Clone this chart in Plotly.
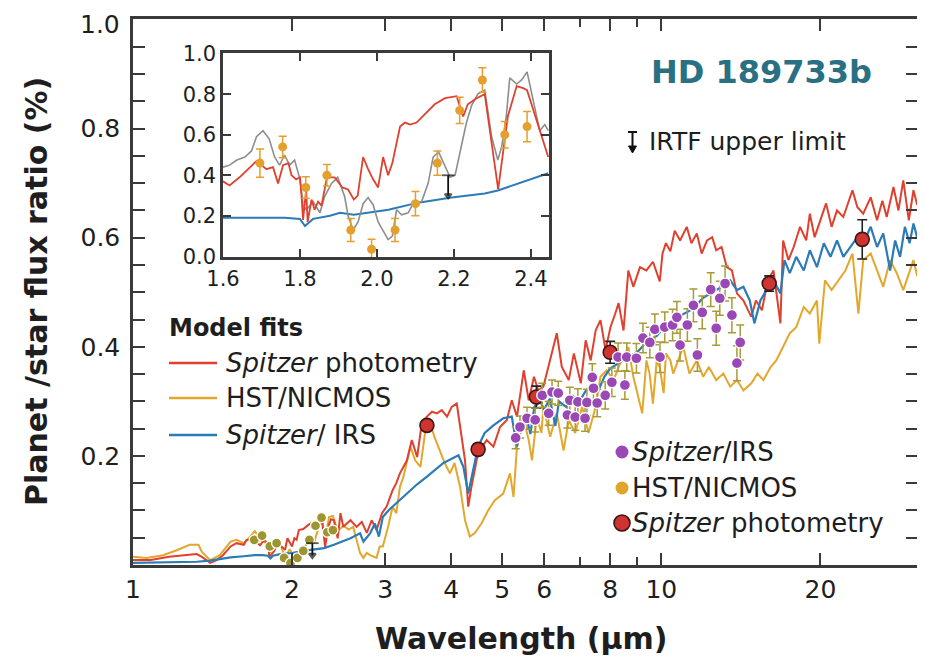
import numpy as np
import plotly.graph_objects as go

# ---------------- data ----------------
# main panel: model fits
red_x = [1.00,1.08,1.17,1.25,1.32,1.35,1.40,1.44,1.48,1.53,1.57,1.62,1.64,1.69,1.74,1.77,1.80,1.81,1.82,1.85,
         1.87,1.91,1.94,1.96,2.00,2.02,2.04,2.06,2.10,2.15,2.20,2.22,2.28,2.31,2.34,2.37,2.40,2.44,2.47,2.50,
         2.58,2.65,2.71,2.77,2.83,2.89,2.96,3.02,3.10,3.15,3.20,3.30,3.37,3.45,3.52,3.60,3.68,3.76,3.84,3.93,
         4.01,4.10,4.16,4.25,4.31,4.37,4.47,4.53,4.67,4.81,4.95,5.10,5.21,5.33,5.49,5.61,5.74,5.85,5.98,6.16,
         6.34,6.48,6.68,6.83,7.04,7.19,7.35,7.51,7.67,7.84,8.01,8.18,8.30,8.48,8.66,8.85,9.11,9.37,9.64,9.93,
         10.05,10.2,10.4,10.6,10.85,11.17,11.4,11.67,11.92,12.2,12.48,12.7,13.0,13.3,13.6,13.9,14.3,14.8,15.1,15.5,
         15.9,16.3,16.8,17.0,17.4,17.8,18.3,18.8,19.1,19.5,19.9,20.5,21.0,21.5,22.1,23.0,23.5,24.1,24.9,25.6,
         26.2,26.7,27.5,28.1,28.7,29.4,30.0,30.5]
red_y = [0.009,0.009,0.015,0.018,0.020,0.015,0.004,0.009,0.018,0.034,0.040,0.037,0.046,0.047,0.036,0.046,0.039,0.018,0.017,0.025,
         0.039,0.034,0.028,0.049,0.034,0.049,0.046,0.064,0.066,0.074,0.079,0.069,0.080,0.033,0.069,0.084,0.082,0.049,0.095,0.070,
         0.082,0.070,0.079,0.059,0.082,0.064,0.095,0.107,0.137,0.150,0.168,0.192,0.229,0.198,0.260,0.272,0.281,0.278,0.284,0.272,
         0.290,0.296,0.253,0.192,0.107,0.143,0.192,0.210,0.229,0.217,0.253,0.266,0.302,0.272,0.357,0.302,0.345,0.320,0.327,0.375,
         0.425,0.363,0.339,0.388,0.333,0.412,0.375,0.430,0.449,0.394,0.436,0.461,0.480,0.430,0.540,0.510,0.546,0.540,0.556,0.520,
         0.571,0.590,0.575,0.613,0.595,0.620,0.590,0.608,0.571,0.595,0.601,0.577,0.583,0.546,0.540,0.498,0.485,0.455,0.485,0.467,
         0.522,0.540,0.443,0.595,0.559,0.583,0.620,0.595,0.644,0.601,0.626,0.663,0.620,0.650,0.638,0.687,0.656,0.644,0.674,0.632,
         0.668,0.638,0.693,0.650,0.705,0.632,0.687,0.660]

gold_x = [1.00,1.06,1.14,1.21,1.28,1.33,1.35,1.40,1.46,1.53,1.57,1.62,1.66,1.70,1.75,1.80,1.82,1.86,1.90,1.94,
          1.98,2.03,2.06,2.10,2.16,2.20,2.24,2.28,2.31,2.35,2.39,2.44,2.50,2.56,2.61,2.65,2.69,2.73,2.77,2.81,
          2.89,2.93,2.97,3.04,3.10,3.15,3.20,3.25,3.35,3.42,3.50,3.57,3.65,3.72,3.81,3.89,3.98,4.06,4.16,4.25,
          4.34,4.44,4.57,4.70,4.84,5.02,5.17,5.25,5.33,5.41,5.49,5.61,5.69,5.81,5.93,5.98,6.16,6.34,6.53,6.68,
          6.87,7.08,7.28,7.51,7.67,7.88,8.12,8.36,8.66,8.85,9.00,9.20,9.37,9.50,9.64,9.80,9.93,10.1,10.2,10.4,
          10.53,10.7,11.0,11.3,11.67,12.0,12.3,12.7,13.1,13.5,13.9,14.3,14.8,15.2,15.6,16.1,16.5,17.0,17.5,18.0,
          18.6,19.1,19.7,19.9,20.4,21.0,21.6,22.3,23.0,23.6,24.1,24.9,25.6,26.3,27.1,27.9,28.7,29.5,30.0,30.5]
gold_y = [0.015,0.013,0.018,0.027,0.037,0.037,0.024,0.009,0.018,0.043,0.046,0.040,0.050,0.062,0.045,0.038,0.023,0.030,0.039,0.013,
          0.029,0.008,0.022,0.026,0.050,0.040,0.066,0.082,0.048,0.088,0.090,0.062,0.072,0.065,0.070,0.046,0.022,0.013,0.022,0.018,
          0.013,0.034,0.034,0.070,0.107,0.095,0.143,0.162,0.217,0.192,0.180,0.242,0.260,0.235,0.210,0.187,0.168,0.187,0.143,0.082,
          0.052,0.059,0.077,0.100,0.119,0.131,0.168,0.125,0.217,0.242,0.266,0.229,0.192,0.272,0.242,0.290,0.235,0.278,0.210,0.266,
          0.242,0.290,0.242,0.290,0.345,0.357,0.339,0.370,0.400,0.345,0.315,0.278,0.375,0.351,0.296,0.375,0.363,0.315,0.388,0.375,
          0.351,0.370,0.400,0.351,0.375,0.345,0.363,0.339,0.351,0.327,0.339,0.320,0.333,0.351,0.339,0.363,0.375,0.400,0.425,0.436,
          0.473,0.461,0.485,0.406,0.522,0.504,0.522,0.540,0.571,0.461,0.559,0.571,0.540,0.510,0.559,0.535,0.504,0.540,0.559,0.530]

blue_x = [1.00,1.15,1.32,1.40,1.53,1.62,1.70,1.76,1.80,1.82,1.84,1.90,2.00,2.10,2.20,2.30,2.40,2.50,2.58,2.69,
          2.73,2.81,2.87,2.92,2.97,3.05,3.15,3.30,3.45,3.60,3.87,4.13,4.22,4.31,4.41,4.50,4.63,4.81,5.02,5.21,
          5.33,5.41,5.55,5.65,5.75,5.90,6.00,6.15,6.30,6.40,6.60,6.80,7.00,7.20,7.40,7.60,7.80,8.00,8.30,8.60,
          9.00,9.40,9.80,10.2,10.6,11.0,11.5,12.0,12.5,13.0,13.5,13.9,14.3,14.7,15.0,15.4,15.8,16.3,16.8,17.1,
          17.5,18.0,18.6,19.1,19.7,20.3,20.9,21.5,22.1,22.8,23.5,24.1,24.9,25.6,26.3,27.1,27.7,28.3,28.9,29.5,
          30.0,30.5]
blue_y = [0.004,0.005,0.006,0.008,0.014,0.016,0.018,0.018,0.017,0.012,0.017,0.020,0.022,0.026,0.029,0.031,0.037,0.044,0.049,0.058,
          0.043,0.058,0.076,0.052,0.088,0.101,0.113,0.131,0.148,0.162,0.187,0.201,0.180,0.131,0.180,0.217,0.242,0.256,0.269,0.272,
          0.217,0.260,0.275,0.240,0.290,0.300,0.285,0.305,0.255,0.300,0.290,0.310,0.300,0.320,0.330,0.320,0.345,0.360,0.370,0.380,
          0.390,0.410,0.420,0.440,0.450,0.460,0.470,0.490,0.500,0.510,0.522,0.504,0.510,0.485,0.443,0.485,0.504,0.522,0.498,0.559,
          0.535,0.565,0.540,0.577,0.546,0.590,0.565,0.595,0.565,0.583,0.601,0.590,0.620,0.583,0.608,0.540,0.595,0.565,0.620,0.590,
          0.626,0.600]

# main panel: observations
irs_x = [5.30,5.40,5.57,5.77,5.95,6.12,6.21,6.38,6.64,6.71,6.87,6.95,7.17,7.23,7.40,7.44,7.56,7.83,8.06,8.28,
         8.53,8.60,8.97,9.23,9.51,9.72,9.94,10.15,10.5,10.7,10.85,11.2,11.5,11.7,11.95,12.4,12.7,12.9,13.2,13.6,
         13.9,14.1]
irs_y = [0.233,0.253,0.269,0.266,0.311,0.278,0.317,0.315,0.275,0.302,0.271,0.299,0.269,0.298,0.344,0.324,0.297,0.311,0.335,0.381,
         0.330,0.381,0.379,0.416,0.408,0.432,0.381,0.436,0.440,0.454,0.403,0.440,0.476,0.385,0.463,0.505,0.434,0.489,0.516,0.458,
         0.370,0.408]
irs_err = [0.020,0.020,0.020,0.022,0.022,0.022,0.022,0.022,0.024,0.024,0.024,0.024,0.024,0.024,0.025,0.025,0.025,0.025,0.026,0.026,
           0.026,0.026,0.027,0.027,0.028,0.028,0.028,0.028,0.029,0.029,0.029,0.030,0.030,0.030,0.030,0.031,0.031,0.031,0.032,0.032,
           0.032,0.032]

phot_x = [3.6, 4.5, 5.8, 8.0, 16.0, 24.0]
phot_y = [0.256, 0.212, 0.308, 0.390, 0.516, 0.597]
phot_err = [0.006, 0.010, 0.020, 0.020, 0.014, 0.036]

# HST/NICMOS points (inset units; main panel shows them at 1/10)
nic_x = [1.696,1.755,1.815,1.870,1.932,1.986,2.047,2.100,2.157,2.215,2.274,2.332,2.390]
nic_y = [0.46,0.54,0.34,0.40,0.13,0.035,0.13,0.26,0.46,0.72,0.87,0.60,0.64]
nic_err = [0.07,0.053,0.053,0.053,0.057,0.05,0.057,0.06,0.06,0.065,0.06,0.065,0.075]
inset_to_main = 0.1

# IRTF upper limit
irtf_x = [2.185]
irtf_main_top, irtf_main_bot = [0.040], [0.018]
irtf_in_top, irtf_in_bot = [0.40], [0.30]

# inset model curves
ired_x = [1.600,1.617,1.643,1.674,1.687,1.713,1.730,1.743,1.756,1.770,1.778,1.790,1.800,1.804,1.808,1.816,1.820,1.830,1.838,1.847,
          1.856,1.870,1.890,1.910,1.925,1.940,1.950,1.964,1.977,1.990,2.003,2.016,2.029,2.040,2.050,2.060,2.073,2.086,2.103,2.133,
          2.150,2.177,2.207,2.224,2.236,2.259,2.280,2.315,2.324,2.340,2.363,2.380,2.390,2.428,2.445]
ired_y = [0.37,0.35,0.39,0.45,0.47,0.43,0.44,0.36,0.45,0.46,0.40,0.38,0.39,0.30,0.18,0.33,0.17,0.28,0.23,0.27,
          0.25,0.39,0.39,0.34,0.33,0.28,0.30,0.49,0.43,0.38,0.34,0.49,0.40,0.46,0.55,0.64,0.66,0.65,0.66,0.72,
          0.75,0.78,0.79,0.69,0.75,0.78,0.80,0.33,0.46,0.69,0.84,0.83,0.82,0.59,0.49]
igrey_x = [1.600,1.617,1.636,1.657,1.674,1.687,1.704,1.720,1.734,1.747,1.760,1.773,1.786,1.800,1.808,1.817,1.834,1.852,1.864,1.882,
           1.898,1.916,1.925,1.938,1.951,1.964,1.977,1.990,2.003,2.016,2.029,2.040,2.051,2.064,2.081,2.094,2.116,2.133,2.146,2.160,
           2.177,2.190,2.203,2.220,2.232,2.246,2.262,2.280,2.298,2.314,2.324,2.336,2.345,2.363,2.376,2.390,2.405,2.423,2.436,2.445]
igrey_y = [0.44,0.45,0.475,0.49,0.52,0.59,0.62,0.58,0.49,0.45,0.50,0.45,0.475,0.38,0.25,0.23,0.27,0.215,0.295,0.36,
           0.39,0.295,0.20,0.13,0.17,0.26,0.29,0.255,0.17,0.125,0.083,0.10,0.23,0.205,0.215,0.26,0.27,0.36,0.49,0.515,
           0.44,0.39,0.40,0.54,0.655,0.745,0.80,0.82,0.59,0.475,0.54,0.69,0.88,0.85,0.87,0.91,0.77,0.62,0.65,0.62]
iblue_x = [1.60,1.70,1.76,1.80,1.813,1.834,1.878,1.904,1.94,2.03,2.107,2.194,2.28,2.314,2.366,2.445]
iblue_y = [0.19,0.19,0.19,0.185,0.15,0.185,0.20,0.215,0.205,0.23,0.265,0.29,0.31,0.325,0.36,0.41]

# ticks
main_xticks = [1, 2, 3, 4, 5, 6, 8, 10, 20]
main_xticks_minor = [7, 9]
main_yticks = [round(0.05 * i, 2) for i in range(1, 21)]
main_ylabel_vals = [0.2, 0.4, 0.6, 0.8]     # 1.0 label is placed as text just below the top edge
top_ylabel = "1.0"
inset_xticks = [1.6, 1.8, 2.0, 2.2, 2.4]
inset_yticks = [0.0, 0.2, 0.4, 0.6, 0.8, 1.0]

# ---------------- styling ----------------
RED = "#e0402e"
GOLD = "#e2a72c"
BLUE = "#2b7bb7"
GREY = "#8e8e8e"
PURPLE = "#9a48b6"
OLIVE = "#a79b38"
AX = "#3a3a3a"
TXT = "#1e1e1e"
FONT = "DejaVu Sans"

OFF = 8                      # page body margin offset
W, H = 925 - OFF, 661 - OFF
L, R, T, B = 133 - OFF, 7, 19 - OFF, 96
PW, PH = W - L - R, H - T - B


def px(x):
    return (x - OFF - L) / PW


def py(y):
    return (H - B - (y - OFF)) / PH


fig = go.Figure()

# main model curves
fig.add_trace(go.Scatter(x=gold_x, y=gold_y, mode="lines", line=dict(color=GOLD, width=2), xaxis="x", yaxis="y"))
fig.add_trace(go.Scatter(x=red_x, y=red_y, mode="lines", line=dict(color=RED, width=2), xaxis="x", yaxis="y"))
fig.add_trace(go.Scatter(x=blue_x, y=blue_y, mode="lines", line=dict(color=BLUE, width=2.2), xaxis="x", yaxis="y"))

# NICMOS points in main panel
nic_main_y = list(np.array(nic_y) * inset_to_main)
nic_main_err = list(np.array(nic_err) * inset_to_main)
fig.add_trace(go.Scatter(x=nic_x, y=nic_main_y, mode="markers",
                         marker=dict(size=10, color="#9d9630", line=dict(color="white", width=1.3)),
                         error_y=dict(type="data", array=nic_main_err, color=OLIVE, thickness=1.3, width=3),
                         xaxis="x", yaxis="y"))

# IRTF upper limit, main
fig.add_trace(go.Scatter(x=irtf_x * 2, y=irtf_main_top + irtf_main_bot, mode="lines+markers",
                         line=dict(color="#111", width=1.8),
                         marker=dict(symbol=["line-ew", "triangle-down"], size=[9, 6], color="#111",
                                     line=dict(color="#111", width=1.8)),
                         xaxis="x", yaxis="y"))

# photometry
fig.add_trace(go.Scatter(x=phot_x, y=phot_y, mode="markers",
                         marker=dict(size=14, color="#cf3430", line=dict(color="#3a1616", width=1.6)),
                         error_y=dict(type="data", array=phot_err, color="#222", thickness=1.6, width=5),
                         xaxis="x", yaxis="y"))

# IRS points
fig.add_trace(go.Scatter(x=irs_x, y=irs_y, mode="markers",
                         marker=dict(size=11, color=PURPLE, line=dict(color="white", width=1.3)),
                         error_y=dict(type="data", array=irs_err, color=OLIVE, thickness=1.5, width=4),
                         xaxis="x", yaxis="y"))

# inset curves
fig.add_trace(go.Scatter(x=iblue_x, y=iblue_y, mode="lines", line=dict(color=BLUE, width=2), xaxis="x2", yaxis="y2"))
fig.add_trace(go.Scatter(x=igrey_x, y=igrey_y, mode="lines", line=dict(color=GREY, width=1.6), xaxis="x2", yaxis="y2"))
fig.add_trace(go.Scatter(x=ired_x, y=ired_y, mode="lines", line=dict(color=RED, width=1.8), xaxis="x2", yaxis="y2"))
fig.add_trace(go.Scatter(x=nic_x, y=nic_y, mode="markers",
                         marker=dict(size=9, color="#e3a02e"),
                         error_y=dict(type="data", array=nic_err, color="#e3a02e", thickness=1.5, width=4),
                         xaxis="x2", yaxis="y2"))
fig.add_trace(go.Scatter(x=irtf_x * 2, y=irtf_in_top + irtf_in_bot, mode="lines+markers",
                         line=dict(color="#111", width=1.8),
                         marker=dict(symbol=["line-ew", "triangle-down"], size=[9, 6], color="#111",
                                     line=dict(color="#111", width=1.8)),
                         xaxis="x2", yaxis="y2"))

axis_common = dict(showline=True, linecolor=AX, linewidth=2.5, mirror="allticks", ticks="inside",
                   tickcolor=AX, tickwidth=2, showgrid=False, zeroline=False, automargin=False,
                   ticklabeloverflow="allow")

inset_x0, inset_x1 = px(223), px(549)
inset_y0, inset_y1 = py(257), py(53)


def ylab(v):
    return f"{v:.1f}" if any(abs(v - t) < 1e-6 for t in main_ylabel_vals) else ""


fig.update_layout(
    width=W, height=H, margin=dict(l=L, r=R, t=T, b=B, autoexpand=False),
    paper_bgcolor="white", plot_bgcolor="white", showlegend=False,
    font=dict(family=FONT, color=TXT),
    xaxis=dict(type="log", range=[0, np.log10(30.6)], domain=[0, 1], anchor="y",
               tickvals=main_xticks, ticktext=[str(v) for v in main_xticks], ticklen=12,
               tickfont=dict(size=25, color=TXT), ticklabelstandoff=0,
               minor=dict(tickmode="array", tickvals=main_xticks_minor, ticks="inside", ticklen=8,
                          tickwidth=2, tickcolor=AX),
               **axis_common),
    yaxis=dict(range=[0, 1.001], domain=[0, 1], anchor="x",
               tickvals=main_yticks, ticktext=[ylab(v) for v in main_yticks],
               ticklen=12, tickfont=dict(size=25, color=TXT), ticklabelstandoff=5,
               **axis_common),
    xaxis2=dict(range=[1.6, 2.447], domain=[inset_x0, inset_x1], anchor="y2",
                tickvals=inset_xticks, ticktext=[f"{v:.1f}" for v in inset_xticks], ticklen=8,
                tickfont=dict(size=21, color=TXT), ticklabelstandoff=1,
                **axis_common),
    yaxis2=dict(range=[-0.003, 1.003], domain=[inset_y0, inset_y1], anchor="x2",
                tickvals=inset_yticks, ticktext=[f"{v:.1f}" for v in inset_yticks], ticklen=8,
                tickfont=dict(size=21, color=TXT), ticklabelstandoff=0,
                **axis_common),
)

ann = []
shapes = []

# top y label (kept inside the page)
ann.append(dict(text=top_ylabel, x=px(122), y=py(25), xref="paper", yref="paper", showarrow=False,
                font=dict(size=25, color=TXT), xanchor="right", yanchor="middle"))

# axis titles
ann.append(dict(text="<b>Wavelength (µm)</b>", x=px(521), y=py(638), xref="paper", yref="paper",
                showarrow=False, font=dict(size=30, color=TXT), xanchor="center", yanchor="middle"))
ann.append(dict(text="<b>Planet /star flux ratio (%)</b>", x=px(36), y=py(292), xref="paper", yref="paper",
                showarrow=False, textangle=-90, font=dict(size=30, color=TXT), xanchor="center", yanchor="middle"))

# title
ann.append(dict(text="<b>HD 189733b</b>", x=px(761), y=py(72), xref="paper", yref="paper", showarrow=False,
                font=dict(size=32, color="#2a7083"), xanchor="center", yanchor="middle"))

# IRTF legend
ann.append(dict(text="IRTF upper limit", x=px(647), y=py(141), xref="paper", yref="paper", showarrow=False,
                font=dict(size=25, color=TXT), xanchor="left", yanchor="middle"))
shapes.append(dict(type="line", xref="paper", yref="paper", x0=px(628), x1=px(637), y0=py(132), y1=py(132),
                   line=dict(color="#111", width=2)))
shapes.append(dict(type="line", xref="paper", yref="paper", x0=px(632.5), x1=px(632.5), y0=py(132), y1=py(147),
                   line=dict(color="#111", width=2)))
shapes.append(dict(type="path", xref="paper", yref="paper",
                   path=f"M {px(628.5)} {py(146)} L {px(636.5)} {py(146)} L {px(632.5)} {py(153)} Z",
                   fillcolor="#111", line=dict(color="#111", width=1)))

# model fits legend
ann.append(dict(text="<b>Model fits</b>", x=px(167), y=py(328), xref="paper", yref="paper", showarrow=False,
                font=dict(size=24, color=TXT), xanchor="left", yanchor="middle"))
model_leg = [("<i>Spitzer</i> photometry", RED, 363), ("HST/NICMOS", GOLD, 398), ("<i>Spitzer</i>/ IRS", BLUE, 435)]
for label, col, yy in model_leg:
    shapes.append(dict(type="line", xref="paper", yref="paper", x0=px(169), x1=px(217), y0=py(yy), y1=py(yy),
                       line=dict(color=col, width=2.5)))
    ann.append(dict(text=label, x=px(224), y=py(yy), xref="paper", yref="paper", showarrow=False,
                    font=dict(size=26, color=TXT), xanchor="left", yanchor="middle"))

# data legend
data_leg = [("<i>Spitzer</i>/IRS", PURPLE, None, 452, 6.5), ("HST/NICMOS", "#e2a52c", None, 488, 6.5),
            ("<i>Spitzer</i> photometry", "#cf3430", "#3a1616", 523, 8)]
for label, col, edge, yy, r in data_leg:
    shapes.append(dict(type="circle", xref="paper", yref="paper", x0=px(622 - r), x1=px(622 + r),
                       y0=py(yy + r), y1=py(yy - r), fillcolor=col,
                       line=dict(color=edge if edge else col, width=1.6 if edge else 0)))
    ann.append(dict(text=label, x=px(630), y=py(yy), xref="paper", yref="paper", showarrow=False,
                    font=dict(size=26, color=TXT), xanchor="left", yanchor="middle"))

fig.update_layout(annotations=ann, shapes=shapes)

fig.write_html("out.html")
